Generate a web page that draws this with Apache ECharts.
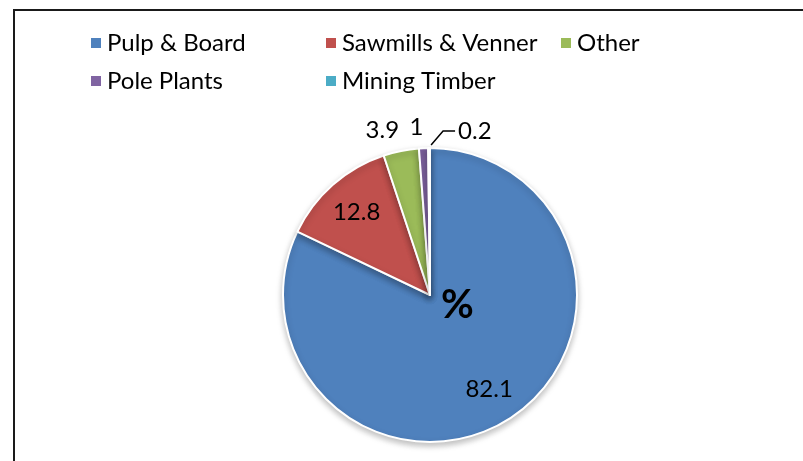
<!DOCTYPE html>
<html>
<head>
<meta charset="utf-8">
<script src="https://cdn.jsdelivr.net/npm/echarts@6/dist/echarts.min.js"></script>
<style>
    html, body { margin: 0; padding: 0; background: #fff; }
    #main { width: 803px; height: 461px; }
</style>
</head>
<body>
<div id="main"></div>
<script>
// data
var categories = ['Pulp & Board', 'Sawmills & Venner', 'Other', 'Pole Plants', 'Mining Timber'];
var values = [82.1, 12.8, 3.9, 1, 0.2];
var colors = ['#4F81BD', '#C0504D', '#9BBB59', '#8064A2', '#4BACC6'];

// legend grid (two rows like the original)
var legendLeft = [84, 319, 554, 84, 319];
var legendTop = [26, 26, 26, 64, 64];

var pieCenter = [430, 295];
var font = 'Lato';

function mainCanvas() {
    var myChart = echarts.init(document.getElementById('main'));

    var legends = [];
    for (var i = 0; i < categories.length; i++) {
        legends.push({
            data: [categories[i]],
            left: legendLeft[i],
            top: legendTop[i],
            icon: 'rect',
            itemWidth: 12,
            itemHeight: 12,
            selectedMode: false,
            textStyle: {
                fontFamily: font,
                fontSize: 24,
                color: '#000'
            }
        });
    }

    var pieData = [];
    for (var j = 0; j < categories.length; j++) {
        var item = {
            name: categories[j],
            value: values[j],
            itemStyle: { color: colors[j] }
        };
        if (j >= 2) {
            item.label = { position: 'outside' };
            item.labelLine = {
                show: true,
                lineStyle: { color: j == 4 ? '#000' : 'rgba(0,0,0,0)', width: 1.5 }
            };
        }
        pieData.push(item);
    }

    var option = {
        animation: false,
        title: {
            text: '%',
            left: 436,
            top: 280,
            textStyle: { fontFamily: font, fontSize: 40, fontWeight: 'bold', color: '#000' }
        },
        legend: legends,
        graphic: [{
            type: 'rect',
            shape: { x: 14, y: 10, width: 1000, height: 1000 },
            style: { fill: 'none', stroke: '#1a1a1a', lineWidth: 2 },
            z: -1
        }],
        series: [{
            type: 'pie',
            center: pieCenter,
            radius: 147,
            startAngle: 90,
            clockwise: true,
            avoidLabelOverlap: false,
            itemStyle: {
                borderColor: '#fff',
                borderWidth: 2,
                shadowBlur: 6,
                shadowOffsetY: 3,
                shadowColor: 'rgba(0,0,0,0.25)'
            },
            label: {
                show: true,
                position: 'inside',
                formatter: '{c}',
                fontFamily: font,
                fontSize: 24,
                color: '#000'
            },
            labelLine: { show: false, length: 6, length2: 6 },
            labelLayout: function (params) {
                var r = params.labelRect;
                if (params.dataIndex < 2) {
                    // push inside labels further out, like excel's best fit
                    var mx = r.x + r.width / 2, my = r.y + r.height / 2;
                    return {
                        x: pieCenter[0] + (mx - pieCenter[0]) * 1.45,
                        y: pieCenter[1] + (my - pieCenter[1]) * 1.45,
                        align: 'center',
                        verticalAlign: 'middle'
                    };
                }
                var p0 = params.labelLinePoints[0];
                if (params.dataIndex == 4) {
                    return {
                        x: p0[0] + 29,
                        y: p0[1] - 17,
                        align: 'left',
                        verticalAlign: 'middle',
                        labelLinePoints: [[p0[0] + 2, p0[1] - 3], [p0[0] + 14, p0[1] - 17], [p0[0] + 26, p0[1] - 17]]
                    };
                }
                return {
                    x: p0[0] + (params.dataIndex == 3 ? 0 : -2),
                    y: p0[1] - 21,
                    align: 'right',
                    verticalAlign: 'middle'
                };
            },
            data: pieData
        }]
    };

    myChart.setOption(option);
}

mainCanvas();
</script>
</body>
</html>
